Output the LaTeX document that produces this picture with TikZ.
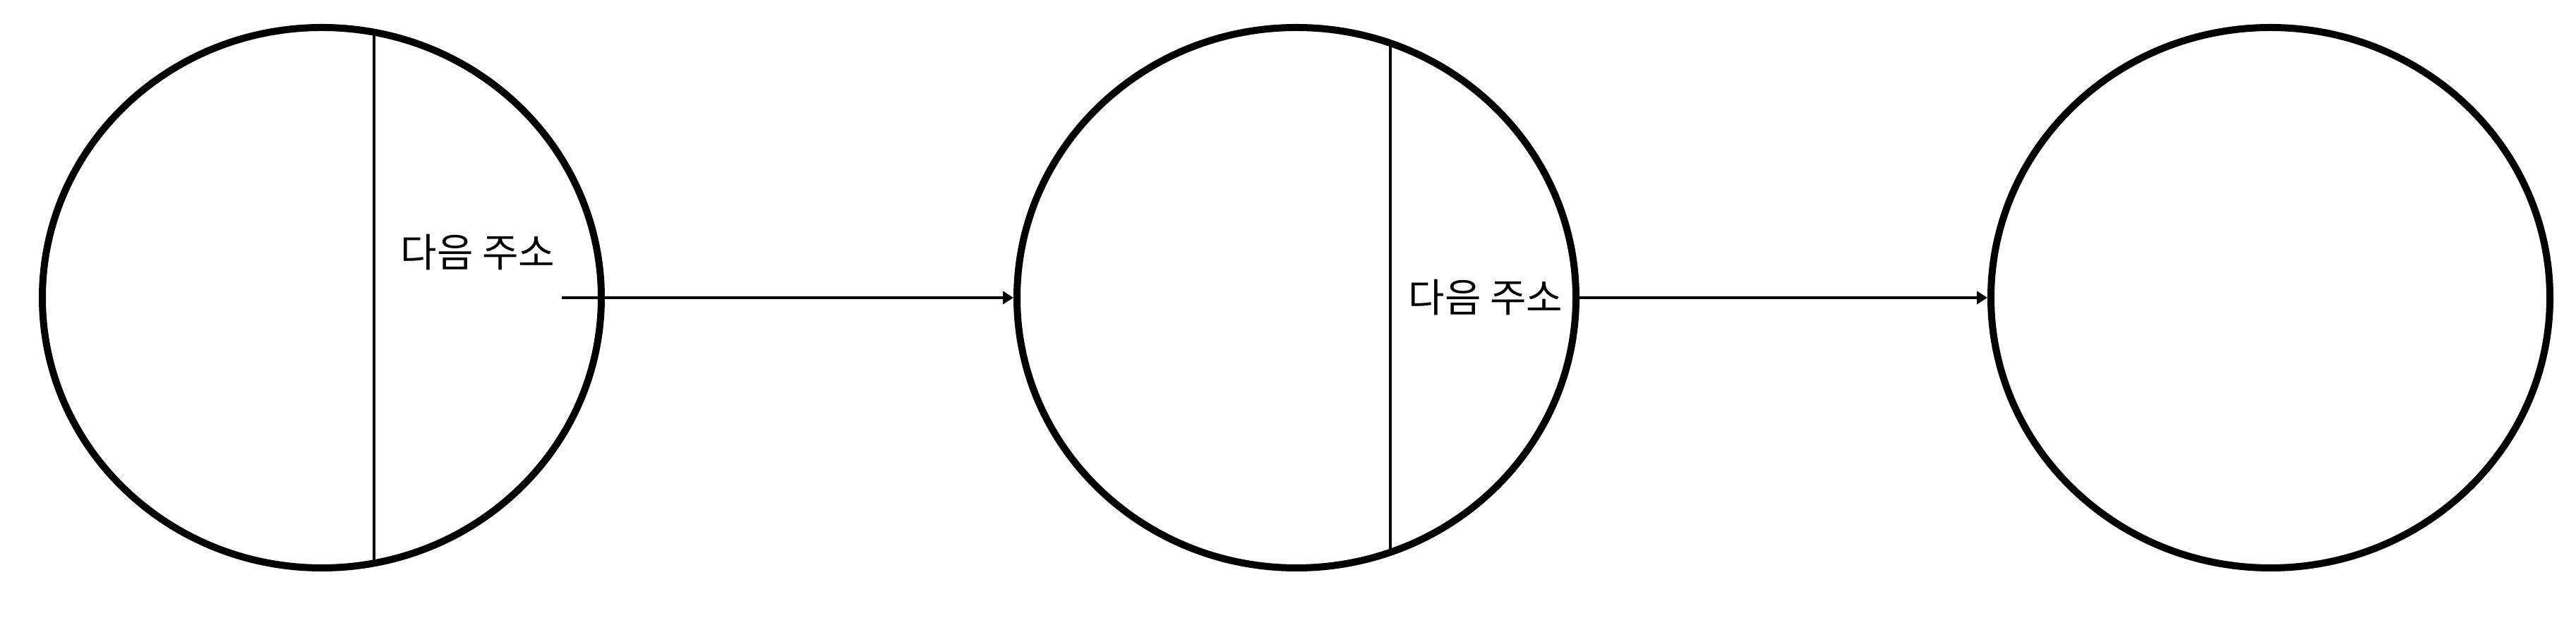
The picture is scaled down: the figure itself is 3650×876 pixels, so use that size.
\documentclass[tikz,border=0pt]{standalone}
\usepackage{fontspec}
\newfontfamily\kofont{Noto Sans CJK KR}
\usetikzlibrary{arrows.meta,shapes.geometric}
\tikzset{
  cell/.style={ellipse, draw=black, line width=2pt, inner sep=0pt,
    minimum width=158.4pt, minimum height=153.2pt},
  divider/.style={draw=black, line width=0.8pt},
  link/.style={draw=black, line width=0.9pt, -{Triangle[length=3pt,width=3.6pt]}},
  label/.style={font=\kofont\fontsize{11.2}{13}\selectfont, inner sep=0pt, text=black}
}
\begin{document}
\begin{tikzpicture}[x=0.2pt,y=-0.2pt]
\useasboundingbox (0,0) rectangle (3650,876);
% ellipses
\node[cell] (e1) at (456,422) {};
\node[cell] (e2) at (1837,422) {};
\node[cell] (e3) at (3217,422) {};
% dividers clipped to ellipses
\begin{scope}
  \clip (456,422) ellipse [x radius=396, y radius=383];
  \path[divider] (530,0) -- (530,876);
\end{scope}
\begin{scope}
  \clip (1837,422) ellipse [x radius=396, y radius=383];
  \path[divider] (1970,0) -- (1970,876);
\end{scope}
% labels
\node[label] (t1) at (677,358) {다음 주소};
\node[label] (t2) at (2105,422) {다음 주소};
% connectors
\coordinate (s1) at (796,422);
\draw[link] (s1) -- (e2.west);
\draw[link] (e2.east) -- (e3.west);
\end{tikzpicture}
\end{document}
